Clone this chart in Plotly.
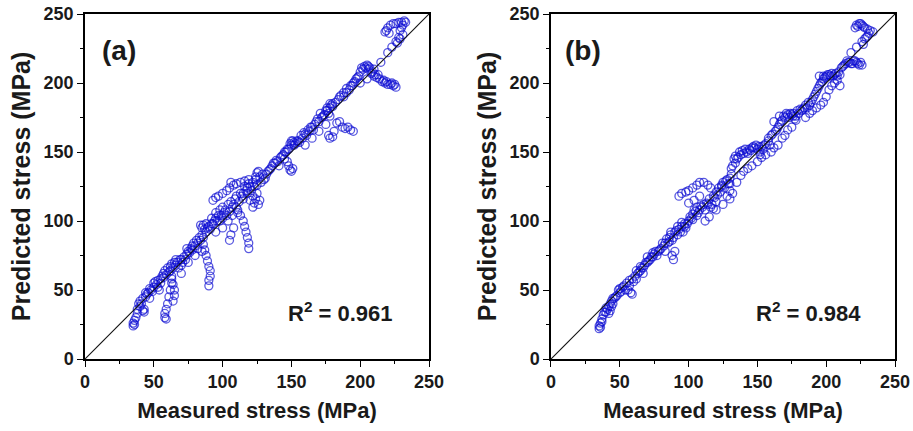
import plotly.graph_objects as go

# %% data (MPa)
meas_a = [35, 35, 36, 36, 37, 38, 42, 43, 43, 40, 40, 42, 44, 45, 46, 47, 48, 50, 50, 52,
          53, 55, 54, 56, 57, 58, 60, 62, 63, 65, 66, 68, 70, 70, 72, 74, 75, 77, 78, 80,
          82, 83, 85, 85, 84, 87, 88, 90, 92, 94, 95, 97, 98, 100, 101, 103, 104, 105, 107, 108,
          110, 112, 114, 115, 117, 118, 120, 122, 124, 125, 126, 124, 128, 130, 132, 134, 136, 138, 140, 142,
          144, 146, 148, 150, 152, 151, 153,
          58, 59, 58, 59, 60, 61, 62, 63, 63,
          64, 65, 65, 64, 63,
          90, 90, 91, 91, 90, 89, 88, 87, 86,
          105, 106, 108,
          119, 119, 118, 117, 116, 115, 113, 111,
          122, 123, 124, 126, 127, 125, 122, 120,
          93, 95, 97, 100, 103, 105, 108, 110, 113, 116, 119, 106,
          148, 149, 150, 151, 147, 145,
          155, 158, 160, 163, 165, 167, 170, 172, 174, 176, 178, 179, 180, 177, 178,
          160, 165, 170, 175,
          177, 178, 180, 181, 183, 185, 187, 189, 191, 193, 195,
          185, 188, 190, 193, 195, 197, 199, 200, 202, 204, 206, 207, 205,
          208, 210, 212, 214, 216, 218, 220, 222, 224, 226,
          200, 205, 210, 215, 220, 223, 226, 228,
          218, 220, 222, 224, 226, 228, 230, 232, 233, 229, 231,
          70, 75, 80, 85, 95, 100]
pred_a = [24, 26, 25, 28, 30, 33, 35, 36, 34, 38, 42, 44, 45, 47, 48, 44, 50, 52, 55, 54,
          57, 58, 50, 60, 62, 64, 66, 67, 69, 70, 68, 66, 68, 72, 74, 76, 78, 80, 79, 82,
          84, 88, 90, 95, 97, 94, 92, 96, 98, 100, 102, 104, 100, 102, 106, 104, 100, 107, 110, 112,
          110, 114, 118, 120, 122, 124, 125, 128, 132, 135, 136, 130, 128, 130, 134, 137, 140, 142, 143, 146,
          148, 150, 152, 155, 157, 158, 156,
          30, 29, 33, 36, 40, 45, 50, 55, 60,
          42, 46, 50, 54, 58,
          53, 57, 60, 64, 67, 71, 75, 79, 83,
          86, 90, 95,
          80, 84, 88, 92, 96, 100, 104, 108,
          110, 113, 116, 112, 115, 120, 118, 115,
          115, 117, 118, 120, 122, 124, 126, 127, 128, 129, 130, 128,
          140, 137, 136, 138, 143, 145,
          158, 160, 163, 165, 168, 170, 172, 175, 177, 180, 182, 184, 185, 178, 176,
          155, 160, 165, 170,
          162, 160, 161, 165, 171, 172, 168, 167, 168, 166, 165,
          190, 193, 196, 198, 200, 203, 205, 208, 210, 211, 212, 211, 213,
          207, 205, 204, 203, 201, 200, 199, 199, 198, 197,
          200, 203, 210, 215, 222, 226, 230, 233,
          237, 240, 242, 243, 243, 244, 244, 245, 244, 238, 235,
          62, 70, 75, 78, 92, 95]

# more points filling the dense band of panel (a)
band_meas_a = [38, 39, 41, 44, 47, 49, 51, 53, 55, 57, 59, 61, 62, 64, 66, 67, 69, 71, 73, 74,
               76, 78, 79, 81, 82, 84, 86, 86, 88, 89, 91, 92, 93, 95, 96, 98, 99, 100, 102, 104,
               106, 107, 109, 110, 111, 113, 115, 116, 118, 119, 121, 123, 125, 127, 129, 131, 133, 135, 137, 139,
               141, 143, 145, 147, 149, 150, 152, 154, 156, 157, 159, 161, 162, 164, 166, 168, 169, 171, 173, 175,
               176, 178, 180, 182, 184, 186, 188, 190, 192, 194, 196, 198, 201, 203, 206, 209, 211, 213, 217, 219,
               223, 225, 227, 229, 231, 230, 219, 221]
band_pred_a = [36, 40, 40, 48, 51, 49, 56, 52, 55, 59, 61, 63, 64, 66, 72, 70, 72, 70, 72, 80,
               77, 82, 84, 86, 80, 86, 88, 97, 98, 95, 94, 102, 98, 106, 100, 108, 104, 110, 108, 112,
               114, 104, 116, 118, 106, 120, 116, 125, 120, 127, 122, 125, 126, 132, 134, 131, 136, 138, 142, 144,
               140, 147, 150, 152, 156, 158, 155, 158, 157, 162, 164, 162, 166, 168, 166, 172, 174, 178, 176, 180,
               182, 185, 183, 186, 188, 191, 190, 193, 195, 198, 201, 204, 211, 212, 210, 208, 206, 206, 202, 201,
               200, 199, 229, 232, 242, 240, 238, 236]

meas_b = [35, 35, 36, 36, 37, 38, 40, 41, 42, 43, 44, 45, 44, 46, 48, 50, 50, 52, 54, 56,
          58, 59, 57, 60, 62, 63, 65, 66, 67, 68, 70, 70, 72, 74, 75, 77, 78, 80, 82, 83,
          85, 86, 87, 88, 88, 89, 90, 90, 92, 93, 95, 96, 97, 98, 100, 102, 103, 105, 106, 108,
          110, 112, 114, 116, 118, 120, 118, 120, 122, 124, 125, 127, 129, 130, 132, 128, 130, 131, 132, 133,
          134, 136, 138, 140, 142, 144, 146, 148, 150, 152, 153,
          93, 95, 98, 100, 103, 106, 108, 111, 114, 116, 100, 104, 108,
          112, 115, 120, 125, 130, 135, 138, 140, 143, 146, 150, 153, 156, 160, 162, 165, 168, 170, 172, 175,
          155, 158, 160, 163, 165, 167, 170, 172, 174, 176, 177, 178, 180, 182, 184, 186, 188, 190, 192, 194,
          196, 198, 200, 202, 204, 206, 208, 210, 212, 214, 216, 218, 220, 222, 224, 226,
          185, 188, 190, 193, 196, 198, 200, 202, 204, 206, 208, 210,
          218, 222, 226, 228, 230, 221, 222, 224, 226, 228, 230, 232, 234,
          162, 166, 195, 198]
pred_b = [22, 24, 23, 26, 29, 32, 34, 36, 33, 35, 38, 40, 42, 44, 46, 48, 51, 52, 50, 50,
          48, 47, 53, 56, 58, 62, 64, 66, 62, 68, 70, 74, 72, 74, 76, 75, 78, 80, 82, 78,
          84, 88, 90, 86, 75, 72, 78, 92, 90, 94, 96, 92, 98, 95, 100, 102, 105, 107, 104, 108,
          110, 108, 112, 110, 109, 114, 118, 121, 124, 126, 128, 129, 127, 122, 120, 118, 131, 134, 140, 145,
          147, 146, 148, 149, 150, 152, 153, 153, 152, 150, 154,
          118, 120, 121, 122, 124, 126, 128, 128, 126, 124, 113, 115, 118,
          100, 103, 108, 112, 116, 128, 133, 136, 138, 140, 143, 146, 148, 150, 153, 155, 160, 162, 166, 168,
          155, 158, 162, 165, 168, 172, 175, 177, 178, 176, 174, 173, 178, 180, 182, 182, 184, 188, 192, 196,
          200, 203, 205, 206, 207, 206, 205, 206, 212, 214, 215, 214, 216, 215, 213, 213,
          175, 178, 180, 182, 184, 186, 190, 195, 198, 200, 202, 198,
          222, 226, 230, 232, 234, 240, 242, 243, 242, 240, 239, 238, 237,
          172, 176, 205, 205]

# more points filling the dense band of panel (b)
band_meas_b = [37, 39, 40, 42, 43, 45, 47, 49, 51, 53, 55, 57, 59, 61, 62, 64, 65, 67, 69, 71,
               73, 74, 76, 79, 81, 83, 84, 86, 87, 89, 91, 92, 94, 95, 97, 99, 101, 103, 104, 106,
               107, 109, 111, 113, 115, 117, 119, 121, 123, 124, 126, 128, 130, 131, 134, 135, 137, 139, 141, 143,
               145, 147, 149, 151, 152, 154, 156, 158, 159, 161, 164, 166, 168, 169, 171, 173, 175, 176, 178, 179,
               181, 183, 185, 187, 189, 191, 193, 195, 197, 199, 201, 203, 205, 207, 209, 211, 213, 215, 217, 219,
               221, 223, 225, 227, 229, 231, 223, 225, 227]
band_pred_b = [27, 34, 37, 38, 40, 44, 45, 50, 49, 53, 55, 57, 58, 60, 64, 63, 67, 66, 70, 71,
               74, 77, 78, 79, 84, 84, 87, 85, 92, 88, 93, 96, 92, 99, 96, 98, 103, 101, 108, 110,
               106, 111, 112, 113, 116, 112, 117, 119, 121, 125, 124, 130, 127, 138, 142, 145, 150, 151, 152, 149,
               151, 154, 155, 154, 148, 152, 156, 160, 155, 163, 166, 170, 173, 176, 178, 175, 177, 178, 176, 180,
               181, 181, 184, 186, 186, 190, 194, 198, 201, 204, 206, 205, 205, 207, 208, 211, 213, 216, 215, 214,
               216, 214, 215, 228, 233, 236, 241, 243, 241]

ticks = [0, 50, 100, 150, 200, 250]
panels = [("(a)", "R<sup>2</sup> = 0.961", meas_a + band_meas_a, pred_a + band_pred_a, [0.0931, 0.4699], 0.044, 0.90),
          ("(b)", "R<sup>2</sup> = 0.984", meas_b + band_meas_b, pred_b + band_pred_b, [0.6035, 0.9803], 0.035, 0.907)]

# %% figure
fig = go.Figure()
font = "Liberation Sans, Arial, sans-serif"
ink = "#1a1a1a"

for i, (tag, r2, xs, ys, dom, tag_x, r2_x) in enumerate(panels):
    sfx = "" if i == 0 else "2"
    fig.add_trace(go.Scatter(
        x=xs, y=ys, mode="markers", xaxis="x" + sfx, yaxis="y" + sfx,
        marker=dict(symbol="circle-open", size=8,
                    line=dict(width=1.3), color="rgba(10,10,210,0.68)"),
        showlegend=False, hoverinfo="skip"))
    fig.add_trace(go.Scatter(
        x=[0, 250], y=[0, 250], mode="lines", xaxis="x" + sfx, yaxis="y" + sfx,
        line=dict(color="#111", width=1.1), showlegend=False, hoverinfo="skip"))

    axis_common = dict(range=[0, 250], tickvals=ticks, showgrid=False, zeroline=False,
                       showline=True, linecolor="black", linewidth=1.5, mirror=True,
                       ticks="outside", ticklen=6, tickwidth=1.3, tickcolor="black",
                       minor=dict(tickvals=[25, 75, 125, 175, 225], ticks="outside",
                                  ticklen=3, tickcolor="black", tickwidth=1),
                       tickfont=dict(family=font, size=18, color=ink, weight="bold"),
                       automargin=False)
    xa = dict(axis_common, domain=dom, anchor="y" + sfx,
              title=dict(text="Measured stress (MPa)", standoff=11,
                         font=dict(family=font, size=22, color=ink, weight="bold")))
    ya = dict(axis_common, domain=[0, 1], anchor="x" + sfx,
              title=dict(text="Predicted stress (MPa)", standoff=6,
                         font=dict(family=font, size=25, color=ink, weight="bold")))
    fig.update_layout(**{"xaxis" + sfx: xa, "yaxis" + sfx: ya})

    fig.add_annotation(text="<b>" + tag + "</b>", x=tag_x, y=0.945,
                       xref="x" + sfx + " domain", yref="y" + sfx + " domain",
                       xanchor="left", yanchor="top", showarrow=False,
                       font=dict(family=font, size=28, color=ink))
    fig.add_annotation(text="<b>" + r2 + "</b>", x=r2_x, y=0.09,
                       xref="x" + sfx + " domain", yref="y" + sfx + " domain",
                       xanchor="right", yanchor="bottom", showarrow=False,
                       font=dict(family=font, size=22, color=ink))

fig.update_layout(width=913, height=431, plot_bgcolor="white", paper_bgcolor="white",
                  margin=dict(l=0, r=0, t=14, b=72), font=dict(family=font))

# drop the default 8px page margin so the figure sits at the window's corner
fig.write_html("out.html", config={"displayModeBar": False},
               post_script="document.body.style.margin='0';")
